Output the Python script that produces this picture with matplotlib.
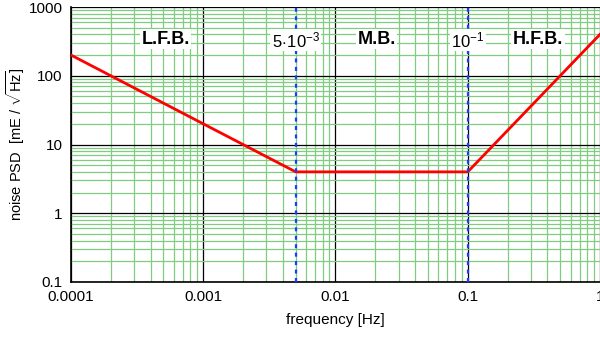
import numpy as np
import matplotlib
matplotlib.use("Agg")
import matplotlib.pyplot as plt
from matplotlib.ticker import LogLocator, NullFormatter, FixedLocator

plt.rcParams['font.family'] = ['Liberation Sans', 'DejaVu Sans']
plt.rcParams['mathtext.fontset'] = 'custom'
plt.rcParams['mathtext.rm'] = 'Liberation Sans'
plt.rcParams['mathtext.it'] = 'Liberation Sans:italic'

# noise curve break points
freq = [1e-4, 5e-3, 0.1, 1.0]
psd = [200, 4, 4, 400]

band_edges = [5e-3, 0.1]
edge_labels = [r'$\mathrm{5\!\cdot\!10^{-3}}$', r'$\mathrm{10^{-1}}$']
band_names = ['L.F.B.', 'M.B.', 'H.F.B.']
band_pos = [(5.2e-4, 340), (2.05e-2, 340), (0.34, 340)]

x_ticks = [1e-4, 1e-3, 1e-2, 1e-1, 1]
x_labels = ['0.0001', '0.001', '0.01', '0.1', '1']
y_ticks = [0.1, 1, 10, 100, 1000]
y_labels = ['0.1', '1', '10', '100', '1000']

fig = plt.figure(figsize=(6, 3.4), dpi=100, facecolor='white')
ax = fig.add_axes([0.1183, 0.1706, 0.8817, 0.8088])
ax.set_xscale('log')
ax.set_yscale('log')
ax.set_xlim(1e-4, 1)
ax.set_ylim(0.1, 1000)

# grid: green minor, black major
ax.xaxis.set_minor_locator(LogLocator(base=10, subs=np.arange(2, 10)))
ax.yaxis.set_minor_locator(LogLocator(base=10, subs=np.arange(2, 10)))
ax.xaxis.set_minor_formatter(NullFormatter())
ax.yaxis.set_minor_formatter(NullFormatter())
ax.grid(True, which='minor', color='#80cc80', lw=0.9)
ax.grid(True, which='major', color='black', lw=0.9)
ax.set_axisbelow(True)

ax.xaxis.set_major_locator(FixedLocator(x_ticks))
ax.set_xticklabels(x_labels)
ax.yaxis.set_major_locator(FixedLocator(y_ticks))
ax.set_yticklabels(y_labels)
ax.tick_params(which='both', length=0, labelsize=11, pad=6)

for s in ['top', 'right']:
    ax.spines[s].set_visible(False)
for s in ['left', 'bottom']:
    ax.spines[s].set_linewidth(1.2)

ax.plot(freq, psd, color='#ff0000', lw=2, zorder=3)

for xe in band_edges:
    ax.axvline(xe, color='#1a3cff', lw=1.6, ls=(0, (1.8, 2)), zorder=3)

for xe, lab in zip(band_edges, edge_labels):
    ax.text(xe, 330, lab, ha='center', va='center', fontsize=12,
            bbox=dict(facecolor='white', edgecolor='none', pad=1), zorder=4)

for name, (xp, yp) in zip(band_names, band_pos):
    ax.text(xp, yp, name, ha='center', va='center', fontsize=13, fontweight='bold',
            bbox=dict(facecolor='white', edgecolor='none', pad=1), zorder=4)

ax.set_xlabel('frequency [Hz]', fontsize=11, labelpad=6)
ax.set_ylabel(r'noise PSD  [mE / $\sqrt{\mathrm{Hz}}$]', fontsize=10.5, labelpad=1)

fig.savefig('out.png', dpi=100, facecolor='white')
